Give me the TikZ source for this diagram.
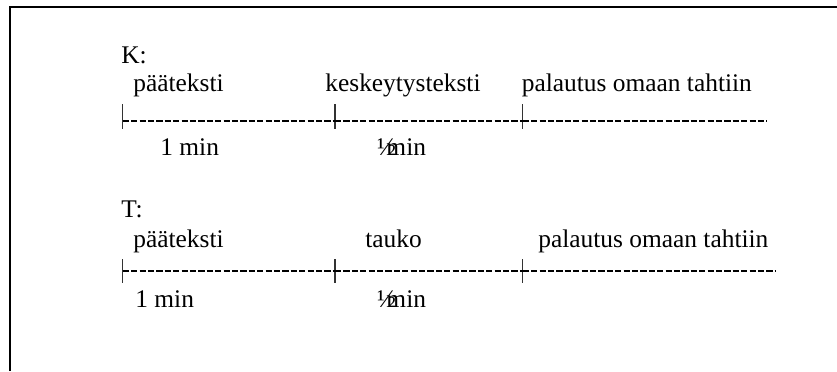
\documentclass[tikz,border=0pt]{standalone}
\usepackage{fontspec}
\setmainfont{Liberation Serif}

\begin{document}
\begin{tikzpicture}[x=0.5pt,y=-0.5pt,
    txt/.style={anchor=base west, inner sep=0pt, font=\fontsize{12.7}{15}\selectfont},
    tickmark/.style={line width=0.55pt, black!80},
    dashline/.style={line width=0.85pt, dash pattern=on 3.1pt off 1.1pt}]
\useasboundingbox (0,0) rectangle (837,371);

% frame (left and top only)
\draw[line width=1pt] (10,371) -- (10,7) -- (837,7);

% K row
\node[txt] (klabel) at (121,63) {K:};
\node[txt] (kmain) at (133,91) {pääteksti};
\node[txt] (kbreak) at (325,91) {keskeytysteksti};
\node[txt] (kback) at (521.5,91) {palautus omaan tahtiin};
\node[txt] (kone) at (160,155) {1 min};
\node[txt] (khalf) at (376.7,155) {½\kern-0.38em min};

% T row
\node[txt] (tlabel) at (121,217) {T:};
\node[txt] (tmain) at (133,247) {pääteksti};
\node[txt] (tbreak) at (365,247) {tauko};
\node[txt] (tback) at (538,247) {palautus omaan tahtiin};
\node[txt] (tone) at (135,307) {1 min};
\node[txt] (thalf) at (376.7,307) {½\kern-0.38em min};

% draw the time lines
\foreach \row/\y/\top/\bot/\e in {k/120.7/104/129/767, t/270.7/259/283/775} {
    \foreach \i/\x in {1/122.7,2/335,3/522.7} {
        \coordinate (\row\i) at (\x,\y);
        \draw[tickmark] (\x,\top) -- (\x,\bot);
    }
    \coordinate (\row end) at (\e,\y);
    \draw[dashline] (\row1) -- (\row2);
    \draw[dashline] (\row2) -- (\row3);
    \draw[dashline] (\row3) -- (\row end);
}

\end{tikzpicture}
\end{document}
